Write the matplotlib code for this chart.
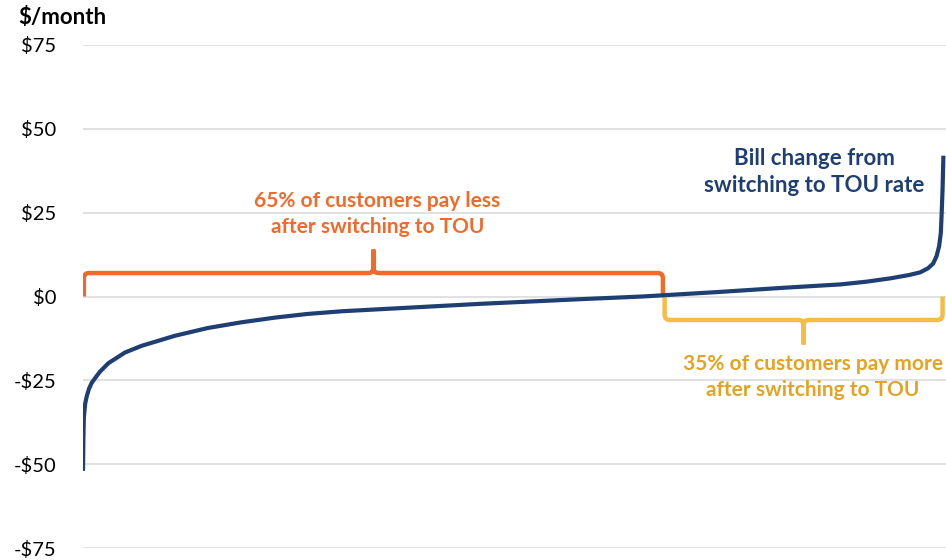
import numpy as np
import matplotlib.pyplot as plt
from matplotlib.path import Path
from matplotlib.patches import PathPatch

# customers sorted by bill change, x = percentile of customers
pct = [0.0, 0.05, 0.1, 0.25, 0.43, 0.7, 1.0, 1.5, 1.98, 2.94, 4.88, 6.82,
       10.7, 14.5, 18.4, 22.3, 26.1, 30.1, 35.9, 46.1, 57.8, 65.0, 73.6,
       81.4, 88.0, 91.0, 93.8, 96.0, 97.3, 98.2, 98.8, 99.2, 99.5, 99.7,
       99.8, 99.9, 100.0]
bill_change = [-52.0, -42.0, -36.0, -32.0, -29.8, -27.5, -25.8, -24.0, -22.4,
               -19.9, -16.7, -14.7, -11.7, -9.4, -7.7, -6.3, -5.2, -4.4, -3.6,
               -2.2, -0.8, 0.0, 1.3, 2.6, 3.6, 4.4, 5.4, 6.4, 7.2, 8.4, 9.8,
               12.0, 15.0, 19.0, 25.0, 32.0, 42.0]

yticks = [75, 50, 25, 0, -25, -50, -75]
ytick_labels = ["$75", "$50", "$25", "$0", "-$25", "-$50", "-$75"]

less_span = (0.1, 67.4)
more_span = (67.6, 99.9)

NAVY = "#1F3F73"
ORANGE = "#F26A2A"
YELLOW = "#F5BD45"
YELLOW_TXT = "#E5A323"

plt.rcParams["font.family"] = ["Lato", "DejaVu Sans"]

fig = plt.figure(figsize=(9.46, 5.6), dpi=100)
ax = fig.add_axes([83 / 946, 12 / 560, 863 / 946, 503 / 560])

ax.plot(pct, bill_change, color=NAVY, lw=3.0, solid_capstyle="butt",
        solid_joinstyle="round", zorder=3)

ax.set_xlim(0, 100.3)
ax.set_ylim(-75, 75)
ax.set_yticks(yticks)
ax.set_yticklabels(ytick_labels, fontsize=14.5)
ax.set_xticks([])
ax.tick_params(axis="y", length=0, pad=19)
ax.yaxis.grid(True, color="#D9D9D9", lw=1.1)
ax.set_axisbelow(True)
for s in ax.spines.values():
    s.set_visible(False)


def brace(x0, x1, h, tip, rx=0.6, ry=1.6):
    # square bracket with rounded corners and a tip in the middle
    xm = (x0 + x1) / 2
    d = 1 if h > 0 else -1
    verts = [(x0, 0), (x0, h - d * ry), (x0, h), (x0 + rx, h),
             (xm - rx, h), (xm, h), (xm, h + d * ry), (xm, tip),
             (xm, h + d * ry), (xm, h), (xm + rx, h),
             (x1 - rx, h), (x1, h), (x1, h - d * ry), (x1, 0)]
    codes = [Path.MOVETO, Path.LINETO, Path.CURVE3, Path.CURVE3,
             Path.LINETO, Path.CURVE3, Path.CURVE3, Path.LINETO,
             Path.LINETO, Path.CURVE3, Path.CURVE3,
             Path.LINETO, Path.CURVE3, Path.CURVE3, Path.LINETO]
    return Path(verts, codes)


ax.add_patch(PathPatch(brace(*less_span, 7.0, 14.0), fill=False,
                       edgecolor=ORANGE, lw=3.2, capstyle="butt", zorder=2))
ax.add_patch(PathPatch(brace(*more_span, -7.0, -14.3), fill=False,
                       edgecolor=YELLOW, lw=3.2, capstyle="butt", zorder=2))

ax.text(34.2, 24.6, "65% of customers pay less\nafter switching to TOU",
        color=ORANGE, fontsize=15, fontweight="bold", ha="center",
        va="center", linespacing=1.38)
ax.text(84.8, -24.0, "35% of customers pay more\nafter switching to TOU",
        color=YELLOW_TXT, fontsize=15, fontweight="bold", ha="center",
        va="center", linespacing=1.38)
ax.text(85.0, 37.0, "Bill change from\nswitching to TOU rate",
        color=NAVY, fontsize=16, fontweight="bold", ha="center",
        va="center", linespacing=1.35)

fig.text(18 / 946, 1 - 18 / 560, "$/month", fontsize=16, fontweight="bold",
         ha="left", va="center")

fig.savefig("out.png", dpi=100)
